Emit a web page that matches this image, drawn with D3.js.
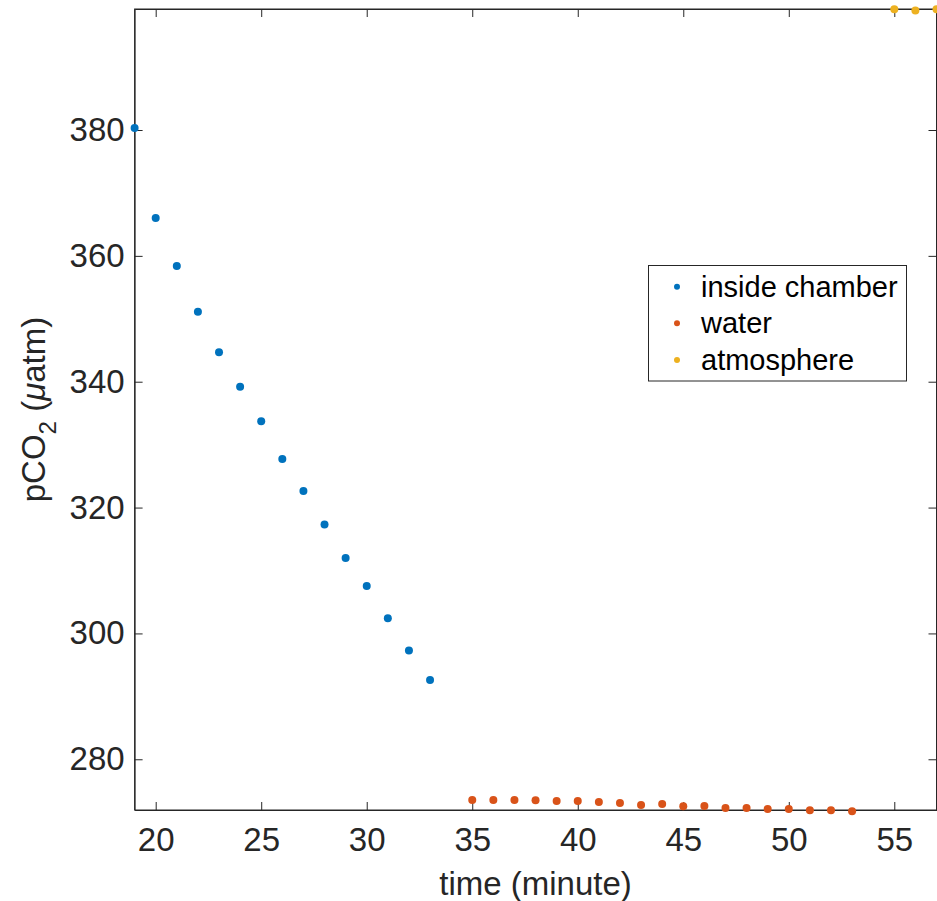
<!DOCTYPE html>
<html>
<head>
<meta charset="utf-8">
<script src="https://cdn.jsdelivr.net/npm/d3@7"></script>
<style>
  body { margin: 0; background: #fff; }
  text { font-family: "Liberation Sans", Arial, sans-serif; }
</style>
</head>
<body>
<div class="chart"></div>
<script>
var svgWidth = 937;
var svgHeight = 901;

// data
var chamberTime = [19, 20, 21, 22, 23, 24, 25, 26, 27, 28, 29, 30, 31, 32, 33];
var chamberCO2 = [380.3, 366.0, 358.4, 351.1, 344.7, 339.2, 333.7, 327.7, 322.65, 317.3, 312.0, 307.55, 302.4, 297.3, 292.6];

var waterTime = [35, 36, 37, 38, 39, 40, 41, 42, 43, 44, 45, 46, 47, 48, 49, 50, 51, 52, 53];
var waterCO2 = [273.53, 273.53, 273.53, 273.5, 273.37, 273.37, 273.2, 273.05, 272.74, 272.9, 272.53, 272.58, 272.26, 272.26, 272.1, 272.1, 271.9, 271.9, 271.74];

var atmTime = [55, 56, 57];
var atmCO2 = [399.2, 399.0, 399.2];

var seriesNames = ["inside chamber", "water", "atmosphere"];
var seriesColors = ["#0072BD", "#D95319", "#EDB120"];

var xTicks = [20, 25, 30, 35, 40, 45, 50, 55];
var yTicks = [280, 300, 320, 340, 360, 380];

var plotLeft = 134.6, plotRight = 936.5, plotTop = 9, plotBottom = 810;

var svg = d3.select(".chart")
  .append("svg")
  .attr("width", svgWidth)
  .attr("height", svgHeight);

var x = d3.scaleLinear().domain([19, 57]).range([plotLeft, plotRight]);
var y = d3.scaleLinear().domain([271.94, 399.23]).range([plotBottom, plotTop]);

var axisColor = "#262626";
var tickLen = 8;

// box
svg.append("rect")
  .attr("x", plotLeft)
  .attr("y", plotTop)
  .attr("width", plotRight - plotLeft)
  .attr("height", plotBottom - plotTop)
  .attr("fill", "none")
  .attr("stroke", axisColor)
  .attr("stroke-width", 1);

// axes with inward ticks
var bottomAxis = d3.axisBottom(x).tickValues(xTicks).tickSize(-tickLen).tickPadding(18).tickSizeOuter(0);
var topAxis = d3.axisTop(x).tickValues(xTicks).tickSize(-tickLen).tickFormat("").tickSizeOuter(0);
var leftAxis = d3.axisLeft(y).tickValues(yTicks).tickSize(-tickLen).tickPadding(10).tickSizeOuter(0);
var rightAxis = d3.axisRight(y).tickValues(yTicks).tickSize(-tickLen).tickFormat("").tickSizeOuter(0);

function styleAxis(g) {
  g.select(".domain").attr("stroke", axisColor);
  g.selectAll(".tick line").attr("stroke", axisColor);
  g.selectAll(".tick text")
    .attr("fill", axisColor)
    .style("font-size", "33px")
    .style("font-family", "'Liberation Sans', Arial, sans-serif");
}

svg.append("g").attr("transform", `translate(0, ${plotBottom})`).call(bottomAxis).call(styleAxis);
svg.append("g").attr("transform", `translate(0, ${plotTop})`).call(topAxis).call(styleAxis);
svg.append("g").attr("transform", `translate(${plotLeft}, 0)`).call(leftAxis).call(styleAxis);
svg.append("g").attr("transform", `translate(${plotRight}, 0)`).call(rightAxis).call(styleAxis);

// points
var series = [
  { t: chamberTime, v: chamberCO2 },
  { t: waterTime, v: waterCO2 },
  { t: atmTime, v: atmCO2 }
];

series.forEach(function(s, i) {
  svg.append("g")
    .selectAll("circle")
    .data(s.t)
    .enter()
    .append("circle")
    .attr("cx", d => x(d))
    .attr("cy", (d, j) => y(s.v[j]))
    .attr("r", 4)
    .attr("fill", seriesColors[i]);
});

// axis labels
svg.append("text")
  .attr("x", (plotLeft + plotRight) / 2)
  .attr("y", 895)
  .attr("text-anchor", "middle")
  .attr("fill", axisColor)
  .style("font-size", "33px")
  .text("time (minute)");

var ylab = svg.append("text")
  .attr("transform", `translate(45, ${(plotTop + plotBottom) / 2}) rotate(-90)`)
  .attr("text-anchor", "middle")
  .attr("fill", axisColor)
  .style("font-size", "33px");
ylab.append("tspan").text("pCO");
ylab.append("tspan").attr("dy", 11).style("font-size", "24px").text("2");
ylab.append("tspan").attr("dy", -11).text(" (");
ylab.append("tspan").style("font-style", "italic").text("\u03bc");
ylab.append("tspan").text("atm)");

// legend
var legend = svg.append("g");
legend.append("rect")
  .attr("x", 648.5)
  .attr("y", 265.5)
  .attr("width", 258)
  .attr("height", 115.5)
  .attr("fill", "#fff")
  .attr("stroke", axisColor)
  .attr("stroke-width", 1);

var rowY = [286.7, 323.3, 360];
seriesNames.forEach(function(name, i) {
  legend.append("circle")
    .attr("cx", 677)
    .attr("cy", rowY[i])
    .attr("r", 3)
    .attr("fill", seriesColors[i]);
  legend.append("text")
    .attr("x", 701)
    .attr("y", rowY[i])
    .attr("dy", "0.35em")
    .attr("fill", "#000")
    .style("font-size", "29px")
    .text(name);
});
</script>
</body>
</html>
